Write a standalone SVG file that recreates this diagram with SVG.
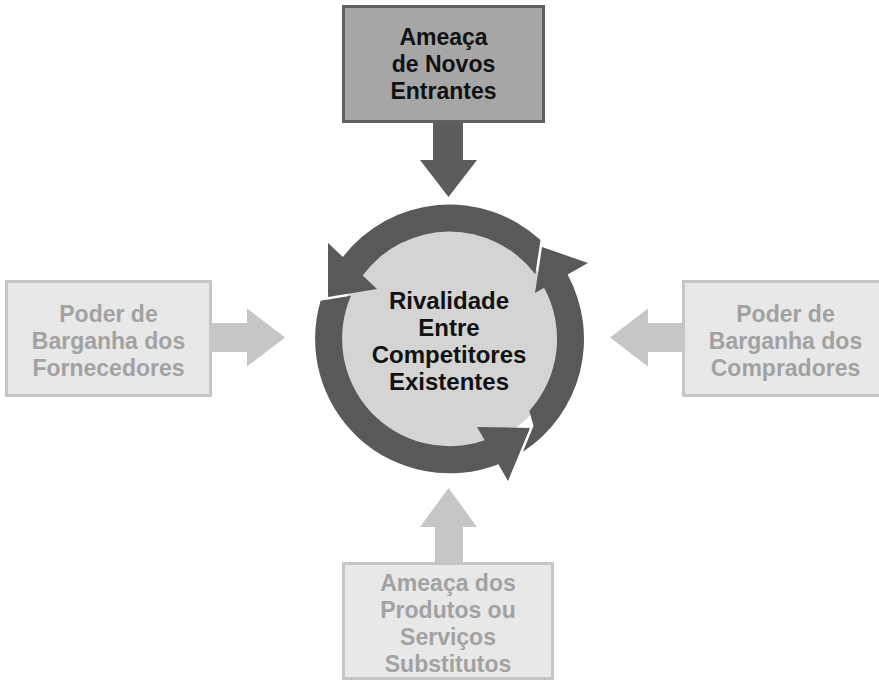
<svg xmlns="http://www.w3.org/2000/svg" width="879" height="680" viewBox="0 0 879 680">
<style>
text{font-family:"Liberation Sans",Arial,sans-serif;font-weight:bold;text-anchor:middle;font-size:23px}
.dark{fill:#a6a6a6;stroke:#5f5f5f;stroke-width:3}
.light{fill:#e8e8e8;stroke:#c6c6c6;stroke-width:3}
.lt{fill:#a2a2a2}
.dt{fill:#111}
.ring{fill:#595959}
.larr{fill:#c6c6c6}
.darr{fill:#5c5c5c}
</style>
<rect width="879" height="680" fill="#fff"/>
<g id="connectors">
<polygon class="darr" points="433,123 463,123 463,160 477,160 448.5,197 420,160 433,160"/>
<polygon class="larr" points="212,323 247,323 247,308.5 285,337.5 247,366.5 247,352 212,352"/>
<polygon class="larr" points="682,323 648,323 648,308.5 610,337.5 648,366.5 648,352 682,352"/>
<polygon class="larr" points="435,562 435,527 420,527 448.5,488 477,527 463,527 463,562"/>
</g>
<g id="rivalidade">
<circle cx="449.5" cy="339" r="111" fill="#d4d4d4"/>
<path class="ring" d="M540.5,240 A134.5,134.5 0 0 0 342.9,257 L328,243 L328,297 L377,289 L362.7,275.6 A107.5,107.5 0 0 1 535.3,274.3 Z"/>
<path class="ring" d="M320.6,300.8 A134.5,134.5 0 0 0 498.4,464.2 L508,481 L530,428 L477,427 L484.7,440.3 A107.5,107.5 0 0 1 351,295.8 Z"/>
<path class="ring" d="M522.9,451.7 A134.5,134.5 0 0 0 567.6,274.6 L588,263 L542,247 L535,293 L544.1,287.8 A107.5,107.5 0 0 1 529.4,410.9 L533.5,426 Z"/>
<text class="dt" font-size="24" style="font-size:24px" x="449" y="309">Rivalidade</text>
<text class="dt" style="font-size:24px" x="449" y="336">Entre</text>
<text class="dt" style="font-size:24px" x="449" y="363">Competitores</text>
<text class="dt" style="font-size:24px" x="449" y="390">Existentes</text>
</g>
<g id="novos-entrantes">
<rect class="dark" x="343.5" y="6.5" width="200" height="115"/>
<text class="dt" x="443.5" y="45">Ameaça</text>
<text class="dt" x="443.5" y="72">de Novos</text>
<text class="dt" x="443.5" y="99">Entrantes</text>
</g>
<g id="fornecedores">
<rect class="light" x="6.5" y="281.5" width="204" height="114"/>
<text class="lt" x="108.5" y="322">Poder de</text>
<text class="lt" x="108.5" y="349">Barganha dos</text>
<text class="lt" x="108.5" y="376">Fornecedores</text>
</g>
<g id="compradores">
<rect class="light" x="683.5" y="281.5" width="204" height="114"/>
<text class="lt" x="785.5" y="322">Poder de</text>
<text class="lt" x="785.5" y="349">Barganha dos</text>
<text class="lt" x="785.5" y="376">Compradores</text>
</g>
<g id="substitutos">
<rect class="light" x="343.5" y="563.5" width="209" height="115"/>
<text class="lt" x="448" y="591">Ameaça dos</text>
<text class="lt" x="448" y="618">Produtos ou</text>
<text class="lt" x="448" y="645">Serviços</text>
<text class="lt" x="448" y="672">Substitutos</text>
</g>
</svg>
